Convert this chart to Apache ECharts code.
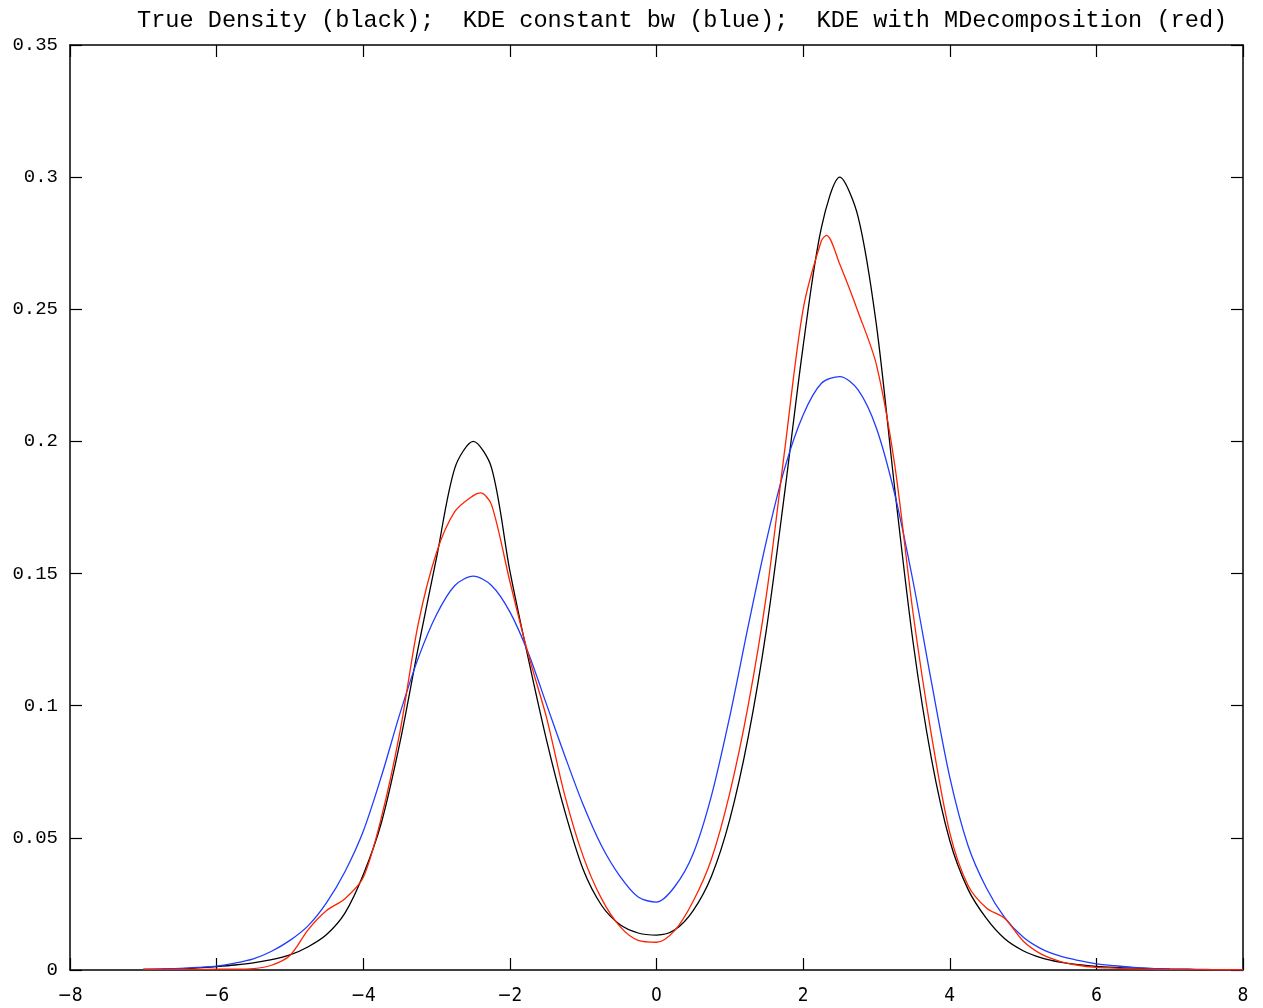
<!DOCTYPE html>
<html>
<head>
<meta charset="utf-8">
<script src="https://cdn.jsdelivr.net/npm/echarts@6/dist/echarts.min.js"></script>
<style>
html,body{margin:0;padding:0;background:#fff;}
#chart{width:1263px;height:1008px;}
</style>
</head>
<body>
<div id="chart"></div>
<script>
const titleText = 'True Density (black);  KDE constant bw (blue);  KDE with MDecomposition (red)';
const xTicks = [-8, -6, -4, -2, 0, 2, 4, 6, 8];
const yTicks = [0, 0.05, 0.1, 0.15, 0.2, 0.25, 0.3, 0.35];

const xGrid = [-7,-6.75,-6.5,-6.25,-6,-5.75,-5.5,-5.25,-5,-4.75,-4.5,-4.25,-4,-3.75,-3.5,-3.25,-3,-2.75,-2.5,-2.25,-2,-1.75,-1.5,-1.25,-1,-0.75,-0.5,-0.25,0,0.25,0.5,0.75,1,1.25,1.5,1.75,2,2.25,2.5,2.75,3,3.25,3.5,3.75,4,4.25,4.5,4.75,5,5.25,5.5,5.75,6,6.25,6.5,6.75,7,7.25,7.5,7.75,8];

const trueDensity = [0.0002,0.0003,0.0005,0.0008,0.0013,0.0019,0.0027,0.0039,0.0057,0.0088,0.0134,0.0215,0.036,0.056,0.086,0.122,0.156,0.19,0.2,0.19,0.151,0.118,0.087,0.06,0.038,0.0245,0.0172,0.014,0.0132,0.0152,0.0225,0.0355,0.057,0.088,0.129,0.181,0.236,0.281,0.3,0.285,0.244,0.182,0.124,0.08,0.049,0.0305,0.0195,0.0118,0.0073,0.0046,0.003,0.002,0.0014,0.001,0.0007,0.0005,0.0003,0.0002,0.0001,0.0001,0.0001];

const kdeConstant = [0.0002,0.0004,0.0006,0.001,0.0015,0.0026,0.0042,0.0071,0.0112,0.0168,0.0255,0.0372,0.0525,0.0735,0.097,0.118,0.1345,0.1455,0.149,0.1455,0.1355,0.12,0.1005,0.081,0.0625,0.047,0.0355,0.0276,0.0257,0.0316,0.044,0.066,0.096,0.13,0.1625,0.19,0.21,0.222,0.2245,0.2195,0.205,0.18,0.147,0.109,0.073,0.047,0.031,0.0198,0.0125,0.008,0.0053,0.0036,0.0023,0.0016,0.001,0.0006,0.0004,0.0003,0.0002,0.0001,0.0001];

const xRed = [-7,-6.75,-6.5,-6.25,-6,-5.75,-5.5,-5.25,-5,-4.75,-4.5,-4.25,-4,-3.75,-3.5,-3.25,-3,-2.75,-2.5,-2.4,-2.25,-2,-1.75,-1.5,-1.25,-1,-0.75,-0.5,-0.25,0,0.25,0.5,0.75,1,1.25,1.5,1.75,2,2.25,2.32,2.5,2.75,3,3.25,3.5,3.75,4,4.25,4.5,4.75,5,5.25,5.5,5.75,6,6.25,6.5,6.75,7,7.25,7.5,7.75,8];

const kdeMDecomp = [0.0002,0.0002,0.0002,0.0002,0.0003,0.0003,0.0005,0.0018,0.0055,0.0153,0.0225,0.027,0.035,0.058,0.09,0.131,0.158,0.1735,0.1795,0.1805,0.176,0.147,0.1195,0.0955,0.066,0.043,0.027,0.0165,0.0112,0.0105,0.015,0.026,0.042,0.067,0.1,0.142,0.197,0.25,0.276,0.278,0.267,0.249,0.229,0.191,0.135,0.089,0.052,0.032,0.0235,0.0195,0.011,0.006,0.0033,0.0018,0.001,0.0007,0.0004,0.0003,0.0002,0.0002,0.0001,0.0001,0.0001];

const pairs = (xs, ys) => xs.map((x, i) => [x, ys[i]]);
const mono = "'Liberation Mono', 'Courier New', monospace";

const chart = echarts.init(document.getElementById('chart'), null, {renderer: 'canvas'});
const axisLineStyle = {color: '#000', width: 1.5};
const tickStyle = {show: true, inside: true, length: 12, lineStyle: {color: '#000', width: 1.2}};
const option = {
  animation: false,
  backgroundColor: '#fff',
  title: {
    text: titleText,
    left: 132, top: 4,
    textStyle: {fontFamily: mono, fontSize: 23.6, fontWeight: 'normal', color: '#000'}
  },
  grid: {left: 70, right: 20, top: 45, bottom: 38, containLabel: false},
  xAxis: [{
    type: 'value', min: xTicks[0], max: xTicks[xTicks.length-1], interval: 2, position: 'bottom',
    axisLine: {show: true, onZero: false, lineStyle: axisLineStyle},
    axisTick: tickStyle,
    splitLine: {show: false},
    axisLabel: {margin: 17, color: '#000', fontSize: 19, fontFamily: "'Liberation Sans Narrow', 'DejaVu Sans Condensed', 'Liberation Sans', sans-serif",
      formatter: v => String(v).replace('-', '\u2212')}
  }, {
    type: 'value', min: xTicks[0], max: xTicks[xTicks.length-1], interval: 2, position: 'top',
    axisLine: {show: true, onZero: false, lineStyle: axisLineStyle},
    axisTick: tickStyle,
    splitLine: {show: false}, axisLabel: {show: false}
  }],
  yAxis: [{
    type: 'value', min: yTicks[0], max: yTicks[yTicks.length-1], interval: 0.05, position: 'left',
    axisLine: {show: true, onZero: false, lineStyle: axisLineStyle},
    axisTick: tickStyle,
    splitLine: {show: false},
    axisLabel: {margin: 12, color: '#000', fontSize: 19, fontFamily: mono}
  }, {
    type: 'value', min: yTicks[0], max: yTicks[yTicks.length-1], interval: 0.05, position: 'right',
    axisLine: {show: true, onZero: false, lineStyle: axisLineStyle},
    axisTick: tickStyle,
    splitLine: {show: false}, axisLabel: {show: false}
  }],
  series: [
    {name: 'True Density', type: 'line', data: pairs(xGrid, trueDensity), smooth: 0.3, showSymbol: false,
      lineStyle: {color: '#000000', width: 1.3}, z: 3},
    {name: 'KDE constant bw', type: 'line', data: pairs(xGrid, kdeConstant), smooth: 0.3, showSymbol: false,
      lineStyle: {color: '#1f3cff', width: 1.3}, z: 4},
    {name: 'KDE with MDecomposition', type: 'line', data: pairs(xRed, kdeMDecomp), smooth: 0.3, showSymbol: false,
      lineStyle: {color: '#ff2200', width: 1.3}, z: 5}
  ]
};
chart.setOption(option);
</script>
</body>
</html>
